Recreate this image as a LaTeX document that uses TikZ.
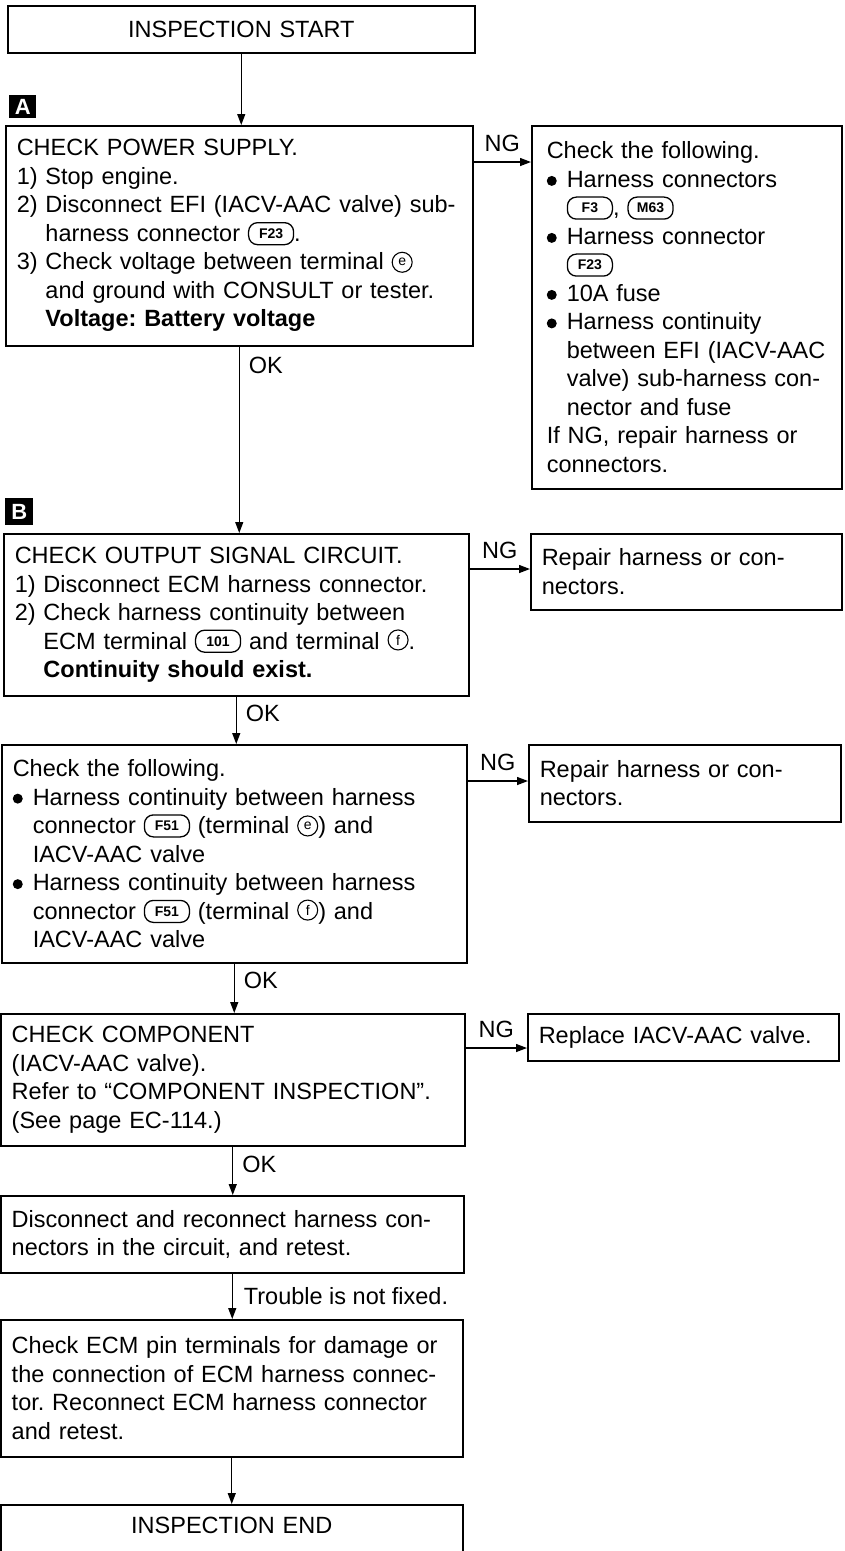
\documentclass[tikz,border=0pt]{standalone}
\usepackage{fontspec}
\setmainfont{Liberation Sans}
\usetikzlibrary{arrows.meta,calc}

\tikzset{
    box/.style={draw, line width=1.5pt, anchor=north west, inner xsep=11pt,
        inner ysep=0pt, align=left, font=\fontsize{23.5pt}{28.5pt}\selectfont},
    tagbox/.style={fill=black, text=white, anchor=north west, inner sep=0pt,
        font=\bfseries\fontsize{22pt}{22pt}\selectfont},
    conn/.style={draw, line width=1.3pt, rounded corners=9pt, anchor=center,
        text width={}, align=center, minimum width=45pt, minimum height=22pt,
        inner xsep=3pt, inner ysep=0pt,
        font=\bfseries\fontsize{14pt}{14pt}\selectfont},
    term/.style={draw, circle, line width=1.1pt, anchor=center, text width={},
        align=center, minimum size=20pt, inner sep=0pt,
        font=\fontsize{14pt}{14pt}\selectfont},
    arr/.style={line width=1.3pt, -{Triangle[length=11pt,width=8pt]}},
    lbl/.style={inner sep=1pt, font=\fontsize{23.5pt}{28.5pt}\selectfont}
}

% inline symbols
\newcommand\conn[1]{\tikz[baseline={([yshift=-3pt]c.base)}]\node[conn](c){#1};}
\newcommand\term[1]{\tikz[baseline={([yshift=-4pt]t.base)}]\node[term](t){#1};}
\newcommand\bul{\makebox[20pt][l]{\tikz[baseline=-6.5pt]\fill (0,0) circle (5pt);}}
\newcommand\ind{\hspace*{20pt}}

\begin{document}
\frenchspacing
\begin{tikzpicture}[x=1pt, y=1pt]
\useasboundingbox (0,0) rectangle (845,-1551);
\clip (0,0) rectangle (845,-1551);

% Start
\node[box, text width=445pt, minimum height=47pt, align=center] (start) at (7,-5) {INSPECTION START};

% Step A
\node[tagbox, minimum width=27pt, minimum height=23pt] (tagA) at (9,-95) {A};
\node[box, text width=445pt, minimum height=220pt] (chkA) at (5,-125) {%
CHECK POWER SUPPLY.\\
1) Stop engine.\\
2) Disconnect EFI (IACV-AAC valve) sub-\\
\hphantom{2) }harness connector \conn{F23}.\\
3) Check voltage between terminal \term{e}\\
\hphantom{3) }and ground with CONSULT or tester.\\
\hphantom{3) }\textbf{Voltage: Battery voltage}};
\node[box, text width=280pt, minimum height=363pt, inner xsep=15pt] (fixA) at (531,-125) {%
Check the following.\\
\bul Harness connectors\\
\ind\conn{F3}, \conn{M63}\\
\bul Harness connector\\
\ind\conn{F23}\\
\bul 10A fuse\\
\bul Harness continuity\\
\ind between EFI (IACV-AAC\\
\ind valve) sub-harness con-\\
\ind nector and fuse\\
If NG, repair harness or\\
connectors.};
\draw[arr] (start.south) -- (start.south |- chkA.north);
\coordinate (ngA) at ($(chkA.north east)+(0,-37)$);
\draw[arr] (ngA) -- node[lbl, above=9pt] (ngAl) {NG} (ngA -| fixA.west);

% Step B
\node[tagbox, minimum width=28pt, minimum height=27pt] (tagB) at (5,-498) {B};
\node[box, text width=443pt, minimum height=162pt] (chkB) at (3,-533) {%
CHECK OUTPUT SIGNAL CIRCUIT.\\
1) Disconnect ECM harness connector.\\
2) Check harness continuity between\\
\hphantom{2) }ECM terminal \conn{101} and terminal \term{f}.\\
\hphantom{2) }\textbf{Continuity should exist.}};
\node[box, text width=289pt, minimum height=76pt] (fixB) at (530,-533) {%
Repair harness or con-\\
nectors.};
\draw[arr] (chkA.south) -- node[lbl, pos=0.1, right=8pt] (okA) {OK} (chkA.south |- chkB.north);
\coordinate (ngB) at ($(chkB.north east)+(0,-36)$);
\draw[arr] (ngB) -- node[lbl, above=9pt] (ngBl) {NG} (ngB -| fixB.west);

% Step C
\node[box, text width=443pt, minimum height=218pt] (chkC) at (1,-744) {%
Check the following.\\
\bul Harness continuity between harness\\
\ind connector \conn{F51} (terminal \term{e}) and\\
\ind IACV-AAC valve\\
\bul Harness continuity between harness\\
\ind connector \conn{F51} (terminal \term{f}) and\\
\ind IACV-AAC valve};
\node[box, text width=290pt, minimum height=77pt] (fixC) at (528,-744) {%
Repair harness or con-\\
nectors.};
\draw[arr] (chkB.south) -- node[lbl, pos=0.35, right=8pt] (okB) {OK} (chkB.south |- chkC.north);
\coordinate (ngC) at ($(chkC.north east)+(0,-37)$);
\draw[arr] (ngC) -- node[lbl, above=9pt] (ngCl) {NG} (ngC -| fixC.west);

% Step D
\node[box, text width=442pt, minimum height=132pt] (chkD) at (0,-1013) {%
CHECK COMPONENT\\
(IACV-AAC valve).\\
Refer to ``COMPONENT INSPECTION''.\\
(See page EC-114.)};
\node[box, text width=289pt, minimum height=47pt] (fixD) at (527,-1013) {Replace IACV-AAC valve.};
\draw[arr] (chkC.south) -- node[lbl, pos=0.35, right=8pt] (okC) {OK} (chkC.south |- chkD.north);
\coordinate (ngD) at ($(chkD.north east)+(0,-35)$);
\draw[arr] (ngD) -- node[lbl, above=9pt] (ngDl) {NG} (ngD -| fixD.west);

% Step E
\node[box, text width=441pt, minimum height=77pt] (chkE) at (0,-1195) {%
Disconnect and reconnect harness con-\\
nectors in the circuit, and retest.};
\draw[arr] (chkD.south) -- node[lbl, pos=0.36, right=8pt] (okD) {OK} (chkD.south |- chkE.north);

% Step F
\node[box, text width=440pt, minimum height=137pt] (chkF) at (0,-1319) {%
Check ECM pin terminals for damage or\\
the connection of ECM harness connec-\\
tor. Reconnect ECM harness connector\\
and retest.};
\draw[arr] (chkE.south) -- node[lbl, right=10pt] (trbl) {Trouble is not fixed.} (chkE.south |- chkF.north);

% End
\node[box, text width=440pt, text height=29pt, text depth=40pt, align=center] (finish) at (0,-1504) {INSPECTION END};
\draw[arr] (chkF.south) -- (chkF.south |- finish.north);

\end{tikzpicture}
\end{document}
